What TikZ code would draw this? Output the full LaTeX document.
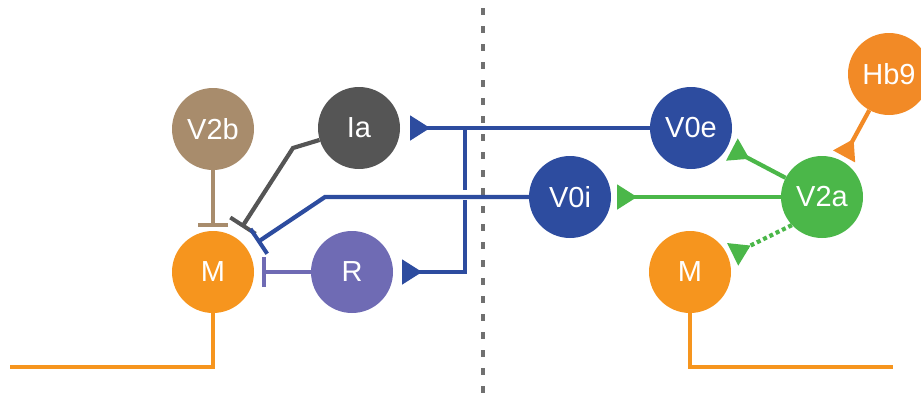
\documentclass[tikz,border=0pt]{standalone}
\usepackage{fontspec}
\setmainfont{Liberation Sans}
\usetikzlibrary{arrows.meta}
\definecolor{morange}{HTML}{F6951E}
\definecolor{horange}{HTML}{F28A26}
\definecolor{tanc}{HTML}{A88C6C}
\definecolor{iagray}{HTML}{555555}
\definecolor{rpurple}{HTML}{6F6BB4}
\definecolor{vblue}{HTML}{2D4C9F}
\definecolor{vgreen}{HTML}{4BB749}
\definecolor{divgray}{HTML}{707070}
\begin{document}
\begin{tikzpicture}[x=1pt,y=-1pt,
  neuron/.style={circle,minimum size=82pt,inner sep=0pt,text=white,
    font=\fontsize{29}{29}\selectfont},
  conn/.style={line width=4.2pt},
  exc/.style={-{Triangle[reversed,length=20pt,width=24pt]}},
  inh/.style={-{Bar[width=30pt,line width=4pt]}},
  divider/.style={draw=divgray,line width=3.5pt,dash pattern=on 7pt off 11pt}]
\useasboundingbox (0,0) rectangle (921,402);
\clip (0,0) rectangle (921,402);
% divider
\coordinate (divTop) at (483,8);
\coordinate (divBot) at (483,402);
\draw[divider] (divTop) -- (divBot);
% neurons
\node[neuron,fill=tanc] (V2b) at (213,129) {V2b};
\node[neuron,fill=iagray] (Ia) at (359,128) {Ia};
\node[neuron,fill=morange] (M1) at (213,272) {M};
\node[neuron,fill=rpurple] (R) at (352,272) {R};
\node[neuron,fill=vblue] (V0e) at (691,128) {V0e};
\node[neuron,fill=vblue] (V0i) at (570,197) {V0i};
\node[neuron,fill=vgreen] (V2a) at (822,197) {V2a};
\node[neuron,fill=morange] (M2) at (690,272) {M};
\node[neuron,fill=horange] (Hb9) at (889,74) {Hb9};
% helper coordinates
\coordinate (iaBend) at (293,148);
\coordinate (v0iBend) at (325,197);
\coordinate (junc) at (465,128);
\coordinate (gapTop) at (465,190);
\coordinate (gapBot) at (465,200);
\coordinate (axL) at (10,367);
\coordinate (axR) at (893,367);
% left side connections
\draw[conn,tanc,inh,shorten >=4pt] (V2b) -- (M1);
\draw[conn,iagray,inh,shorten >=12pt] (Ia) -- (iaBend) -- (M1);
\draw[conn,vblue,inh,shorten >=12pt] (V0i) -- (v0iBend) -- (M1);
\draw[conn,rpurple,inh,shorten >=8pt] (R) -- (M1);
\draw[conn,vblue,exc,shorten >=10pt] (V0e) -- (Ia);
\draw[conn,vblue] (junc) -- (gapTop);
\draw[conn,vblue,exc,shorten >=9pt] (gapBot) |- (R);
% right side connections
\draw[conn,vgreen,exc,shorten >=6pt] (V2a) -- (V0i);
\draw[conn,vgreen,exc,shorten >=5pt] (V2a) -- (V0e);
\draw[conn,vgreen,exc,shorten >=5pt,dash pattern=on 4pt off 3pt] (V2a.223) -- (M2.22);
\draw[conn,horange,exc,shorten >=5pt] (Hb9) -- (V2a);
% motor axons
\draw[conn,morange] (M1) |- (axL);
\draw[conn,morange] (M2) |- (axR);
\end{tikzpicture}
\end{document}
